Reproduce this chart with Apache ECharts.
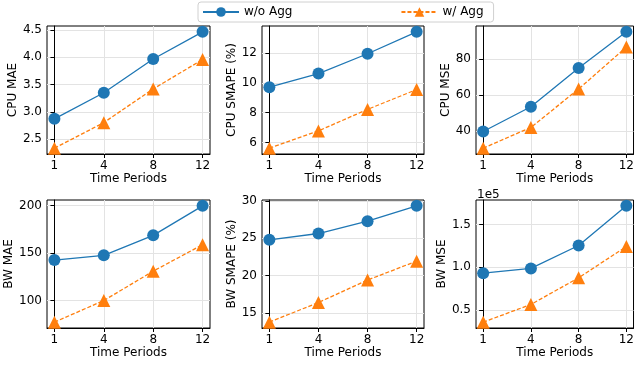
<!DOCTYPE html>
<html>
<head>
<meta charset="utf-8">
<script src="https://cdn.jsdelivr.net/npm/echarts@6/dist/echarts.min.js"></script>
<style>
  html, body { margin: 0; padding: 0; background: #fff; }
  #chart { width: 637px; height: 367px; }
</style>
</head>
<body>
<div id="chart"></div>
<script>
// x categories
const periods = ['1', '4', '8', '12'];

// CPU panels
const cpuMaeWo = [2.87, 3.35, 3.97, 4.47];
const cpuMaeW = [2.33, 2.80, 3.42, 3.96];
const cpuSmapeWo = [9.71, 10.62, 11.95, 13.42];
const cpuSmapeW = [5.62, 6.78, 8.22, 9.55];
const cpuMseWo = [39.6, 53.4, 75.0, 95.2];
const cpuMseW = [30.3, 41.9, 63.3, 86.7];

// BW panels
const bwMaeWo = [142.6, 147.6, 168.6, 199.7];
const bwMaeW = [77.2, 100.0, 130.9, 158.8];
const bwSmapeWo = [24.78, 25.62, 27.27, 29.33];
const bwSmapeW = [13.74, 16.38, 19.38, 21.92];
const bwMseWo = [93200, 98700, 125500, 171800];
const bwMseW = [36000, 56700, 87800, 124300];

// y tick labels
const cpuMaeTicks = [2.5, 3.0, 3.5, 4.0, 4.5];
const cpuSmapeTicks = [6, 8, 10, 12];
const cpuMseTicks = [40, 60, 80];
const bwMaeTicks = [100, 150, 200];
const bwSmapeTicks = [15, 20, 25, 30];
const bwMseTicks = [50000, 100000, 150000];

const FONT = 'DejaVu Sans';
const BLUE = '#1f77b4';
const ORANGE = '#ff7f0e';

const panels = [
  { name: 'CPU MAE', wo: cpuMaeWo, w: cpuMaeW, ticks: cpuMaeTicks, fmt: v => v.toFixed(1), gap: 25 },
  { name: 'CPU SMAPE (%)', wo: cpuSmapeWo, w: cpuSmapeW, ticks: cpuSmapeTicks, fmt: v => String(v), gap: 21 },
  { name: 'CPU MSE', wo: cpuMseWo, w: cpuMseW, ticks: cpuMseTicks, fmt: v => String(v), gap: 21 },
  { name: 'BW MAE', wo: bwMaeWo, w: bwMaeW, ticks: bwMaeTicks, fmt: v => String(v), gap: 28 },
  { name: 'BW SMAPE (%)', wo: bwSmapeWo, w: bwSmapeW, ticks: bwSmapeTicks, fmt: v => String(v), gap: 21 },
  { name: 'BW MSE', wo: bwMseWo, w: bwMseW, ticks: bwMseTicks, fmt: v => (v / 1e5).toFixed(1), gap: 25 }
];

const lefts = [47, 262, 476];
const widths = [163, 162, 162];
const tops = [26, 200];

const grids = [], xAxes = [], yAxes = [], series = [];
const xIdx = periods.map((p, i) => i);

panels.forEach((p, k) => {
  const col = k % 3, row = Math.floor(k / 3);
  grids.push({
    left: lefts[col], top: tops[row], width: widths[col], height: 128,
    show: true, borderColor: '#000', borderWidth: 1, containLabel: false
  });
  xAxes.push({
    type: 'value', gridIndex: k, min: -0.15, max: 3.15,
    name: 'Time Periods', nameLocation: 'middle', nameGap: 17,
    nameTextStyle: { fontFamily: FONT, fontSize: 12, color: '#000' },
    axisLine: { show: true, lineStyle: { color: '#000' } },
    axisTick: { show: true, length: 4, customValues: xIdx, lineStyle: { color: '#000' } },
    axisLabel: { customValues: xIdx, margin: 6, fontFamily: FONT, fontSize: 12, color: '#000',
      formatter: v => periods[Math.round(v)] },
    splitLine: { show: true, lineStyle: { color: '#e3e3e3' } }
  });
  yAxes.push({
    type: 'value', gridIndex: k,
    min: e => e.min - 0.05 * (e.max - e.min),
    max: e => e.max + 0.05 * (e.max - e.min),
    name: p.name, nameLocation: 'middle', nameGap: p.gap,
    nameTextStyle: { fontFamily: FONT, fontSize: 12, color: '#000' },
    axisLine: { show: true, lineStyle: { color: '#000' } },
    axisTick: { show: true, length: 4, customValues: p.ticks, lineStyle: { color: '#000' } },
    axisLabel: { customValues: p.ticks, margin: 5, fontFamily: FONT, fontSize: 12, color: '#000',
      formatter: p.fmt },
    splitLine: { show: true, lineStyle: { color: '#e3e3e3' } }
  });
  series.push({
    name: 'w/o Agg', type: 'line', xAxisIndex: k, yAxisIndex: k,
    data: p.wo.map((v, i) => [i, v]),
    symbol: 'circle', symbolSize: 12,
    itemStyle: { color: BLUE }, lineStyle: { color: BLUE, width: 1.3 },
    animation: false, z: 3
  });
  series.push({
    name: 'w/ Agg', type: 'line', xAxisIndex: k, yAxisIndex: k,
    data: p.w.map((v, i) => [i, v]),
    symbol: 'triangle', symbolSize: 13,
    itemStyle: { color: ORANGE }, lineStyle: { color: ORANGE, width: 1.3, type: [4, 2] },
    animation: false, z: 3
  });
});

const chart = echarts.init(document.getElementById('chart'));
chart.setOption({
  backgroundColor: '#fff',
  animation: false,
  textStyle: { fontFamily: FONT },
  legend: {
    top: 2, left: 198, itemGap: 108, itemWidth: 36, itemHeight: 12,
    borderColor: '#d0d0d0', borderWidth: 1, borderRadius: 3,
    padding: [4, 10, 4, 4],
    textStyle: { fontFamily: FONT, fontSize: 12, color: '#000' },
    data: ['w/o Agg', 'w/ Agg']
  },
  graphic: [{
    type: 'text', left: 477, top: 189,
    style: { text: '1e5', fontFamily: FONT, fontSize: 12, fill: '#000' }
  }],
  grid: grids,
  xAxis: xAxes,
  yAxis: yAxes,
  series: series
});
</script>
</body>
</html>
